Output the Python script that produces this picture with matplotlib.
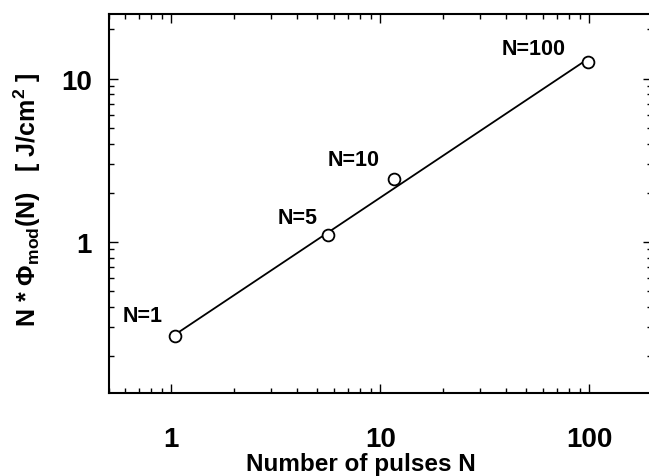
import matplotlib
matplotlib.use("Agg")
import matplotlib.pyplot as plt
from matplotlib.ticker import LogLocator, NullFormatter, FixedLocator, FixedFormatter

plt.rcParams['font.family'] = ['Liberation Sans', 'DejaVu Sans']
plt.rcParams['font.weight'] = 'bold'
plt.rcParams['mathtext.fontset'] = 'custom'
plt.rcParams['mathtext.rm'] = 'Liberation Sans:bold'
plt.rcParams['mathtext.bf'] = 'Liberation Sans:bold'
plt.rcParams['mathtext.it'] = 'Liberation Sans:bold'

# data
pulses = [1.04, 5.64, 11.7, 98.9]
fluence = [0.266, 1.10, 2.42, 12.7]
labels = ["N=1", "N=5", "N=10", "N=100"]
fit_x = [1.04, 98.9]
fit_y = [0.271, 13.2]
xticks = [1, 10, 100]
xticklabels = ["1", "10", "100"]
yticks = [1, 10]
yticklabels = ["1", "10"]

fig = plt.figure(figsize=(6.49, 4.77), dpi=100)
ax = fig.add_axes([108.5/649, 1-393.5/477, (652-108.5)/649, (393.5-14.5)/477])
ax.set_xscale('log')
ax.set_yscale('log')
ax.set_xlim(0.5, 200)
ax.set_ylim(0.12, 25)

ax.plot(fit_x, fit_y, color='black', lw=1.3, zorder=2)
ax.plot(pulses, fluence, 'o', mfc='white', mec='black', mew=1.3, ms=8.5, zorder=3)

offsets = [(-23, 15), (-22, 13), (-29.5, 14.5), (-39, 9.5)]
for x, y, t, off in zip(pulses, fluence, labels, offsets):
    ax.annotate(t, (x, y), xytext=off, textcoords='offset points',
                ha='center', va='center', fontsize=15.5, fontweight='bold')

ax.xaxis.set_major_locator(FixedLocator(xticks))
ax.xaxis.set_major_formatter(FixedFormatter(xticklabels))
ax.yaxis.set_major_locator(FixedLocator(yticks))
ax.yaxis.set_major_formatter(FixedFormatter(yticklabels))
ax.xaxis.set_minor_locator(LogLocator(base=10, subs=range(2, 10)))
ax.yaxis.set_minor_locator(LogLocator(base=10, subs=range(2, 10)))
ax.xaxis.set_minor_formatter(NullFormatter())
ax.yaxis.set_minor_formatter(NullFormatter())

ax.tick_params(which='both', direction='in', top=True, right=True, width=1.0)
ax.tick_params(which='major', length=6.5)
ax.tick_params(which='minor', length=3.5)
ax.tick_params(axis='x', which='major', pad=24, labelsize=20)
ax.tick_params(axis='y', which='major', pad=12, labelsize=20)
for lab in ax.get_xticklabels() + ax.get_yticklabels():
    lab.set_fontweight('bold')
for s in ax.spines.values():
    s.set_linewidth(1.5)

ax.set_xlabel('Number of pulses N', fontsize=17.5, fontweight='bold', va='bottom')
ax.xaxis.set_label_coords((361-108.5)/543.5, (393.5-476)/379)
ax.set_ylabel(r'N $*$ Φ$_{\mathbf{mod}}$(N)   [ J/cm$^{\mathbf{2}}$ ]',
              fontsize=18, fontweight='bold', va='center')
ax.yaxis.set_label_coords((27-108.5)/543.5, (393.5-200)/379)

fig.savefig('out.png', dpi=100)
